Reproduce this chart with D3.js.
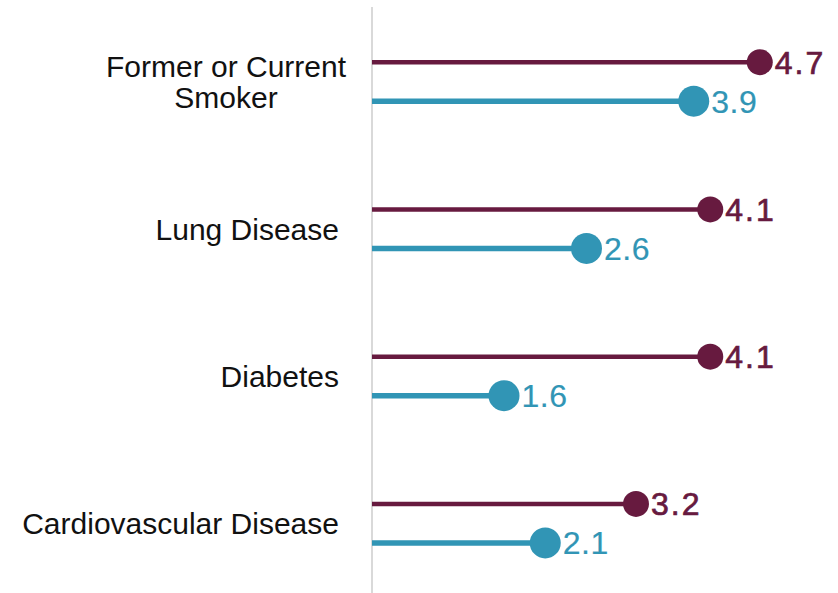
<!DOCTYPE html>
<html>
<head>
<meta charset="utf-8">
<script src="https://cdn.jsdelivr.net/npm/d3@7"></script>
<style>
  html, body { margin: 0; padding: 0; background: #ffffff; }
  svg { display: block; }
  text { font-family: "Liberation Sans", Arial, sans-serif; }
</style>
</head>
<body>
<svg id="chart" width="838" height="593"></svg>
<script>
// Categories (top to bottom), each may wrap onto several lines
const categories = ["Former or Current Smoker", "Lung Disease", "Diabetes", "Cardiovascular Disease"];
const categoryLines = [["Former or Current", "Smoker"], ["Lung Disease"], ["Diabetes"], ["Cardiovascular Disease"]];

// Two series, one value per category
const seriesNames = ["Series A", "Series B"];
const seriesA = [4.7, 4.1, 4.1, 3.2];
const seriesB = [3.9, 2.6, 1.6, 2.1];
const seriesValues = [seriesA, seriesB];
const seriesColors = ["#671a3f", "#3195b5"];
const dotRadius = [13, 15.5];
const lineWidth = [4.5, 5.5];
const labelSpacing = [2, 0.5];
const labelStroke = [0.7, 0.2];

const svg = d3.select("#chart");

const x = d3.scaleLinear().domain([0, 5]).range([372, 784.5]);
const y = d3.scaleBand().domain(categories).range([8, 597]);
const ySub = d3.scalePoint().domain(seriesNames).range([-19.5, 19.5]);

// Baseline axis
svg.append("line")
  .attr("x1", x(0)).attr("x2", x(0))
  .attr("y1", 7).attr("y2", 593)
  .attr("stroke", "#d9d9d9").attr("stroke-width", 2);

// Category labels
const labelRight = 339;
categories.forEach((c, i) => {
  const cy = y(c) + y.bandwidth() / 2;
  const lines = categoryLines[i];
  const lh = 31;
  const g = svg.append("g");
  const texts = lines.map((ln, j) =>
    g.append("text")
      .attr("y", cy + (j - (lines.length - 1) / 2) * lh)
      .attr("dy", "0.36em")
      .attr("font-size", 30)
      .attr("fill", "#111")
      .text(ln));
  if (lines.length === 1) {
    texts[0].attr("x", labelRight).attr("text-anchor", "end");
  } else {
    const w = d3.max(texts, t => t.node().getComputedTextLength());
    const cx = labelRight + 7 - w / 2;
    texts.forEach(t => t.attr("x", cx).attr("text-anchor", "middle"));
  }
});

// Lollipops
seriesNames.forEach((s, si) => {
  const vals = seriesValues[si];
  const g = svg.append("g");
  categories.forEach((c, i) => {
    const cy = y(c) + y.bandwidth() / 2 + ySub(s);
    const v = vals[i];
    g.append("line")
      .attr("x1", x(0)).attr("x2", x(v))
      .attr("y1", cy).attr("y2", cy)
      .attr("stroke", seriesColors[si])
      .attr("stroke-width", lineWidth[si]);
    g.append("circle")
      .attr("cx", x(v)).attr("cy", cy)
      .attr("r", dotRadius[si])
      .attr("fill", seriesColors[si]);
    g.append("text")
      .attr("x", x(v) + dotRadius[si] + 2)
      .attr("y", cy)
      .attr("dy", "0.36em")
      .attr("font-size", 32)
      .attr("letter-spacing", labelSpacing[si])
      .attr("fill", seriesColors[si])
      .attr("stroke", seriesColors[si])
      .attr("stroke-width", labelStroke[si])
      .text(d3.format(".1f")(v));
  });
});
</script>
</body>
</html>
